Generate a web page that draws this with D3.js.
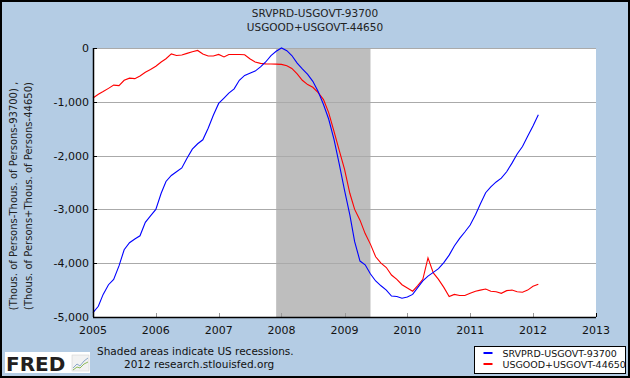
<!DOCTYPE html>
<html>
<head>
<meta charset="utf-8">
<script src="https://cdn.jsdelivr.net/npm/d3@7"></script>
<style>
  body { margin: 0; background: #fff; }
  svg { display: block; font-family: "DejaVu Sans", Verdana, sans-serif; }
</style>
</head>
<body>
<div id="chart_container"></div>
<script>
// monthly values, Jan 2005 .. Feb 2012 (thousands of persons)
var startMonth = new Date(2005, 0, 1);

var srvprd = [
    -4920, -4800, -4580, -4400, -4300, -4050, -3750, -3620, -3550, -3490, -3240, -3120,
    -3000, -2700, -2480, -2370, -2300, -2230, -2050, -1880, -1780, -1706, -1490, -1250,
    -1030, -930, -840, -760, -600, -510, -470, -430, -350, -260, -140, -60,
    0, -50, -140, -280, -390, -490, -620, -810, -1050, -1320, -1700, -2150,
    -2640, -3100, -3600, -3960, -4030, -4200, -4330, -4420, -4500, -4610, -4620, -4650,
    -4630, -4580, -4460, -4330, -4240, -4170, -4100, -3990, -3850, -3680, -3540, -3420,
    -3290, -3100, -2900, -2690, -2580, -2490, -2420, -2300, -2140, -1970, -1830, -1640,
    -1450, -1240
];

var usgood = [
    -930, -860, -810, -750, -690, -700, -600, -560, -570, -520, -450, -400,
    -340, -260, -200, -110, -140, -130, -100, -70, -45, -110, -150, -150,
    -120, -165, -120, -120, -120, -125, -200, -260, -285, -295, -298, -300,
    -305, -330, -380, -480, -600, -680, -730, -830, -960, -1200, -1550, -1900,
    -2250, -2700, -3000, -3200, -3450, -3650, -3880, -4000, -4080, -4220, -4300, -4400,
    -4460, -4520, -4420, -4300, -3900, -4180, -4300, -4450, -4620, -4580, -4600, -4600,
    -4560, -4520, -4500, -4480, -4520, -4530, -4560, -4510, -4500, -4530, -4540, -4500,
    -4430, -4390
];

var yTicks = [0, -1000, -2000, -3000, -4000, -5000];
var xTickYears = [2005, 2006, 2007, 2008, 2009, 2010, 2011, 2012, 2013];
var recession = [new Date(2007, 11, 1), new Date(2009, 5, 1)];

var titleLines = ["SRVPRD-USGOVT-93700", "USGOOD+USGOVT-44650"];
var yLabelLines = ["(Thous. of Persons-Thous. of Persons-93700) ,", "(Thous. of Persons+Thous. of Persons-44650)"];
var seriesNames = ["SRVPRD-USGOVT-93700", "USGOOD+USGOVT-44650"];
var seriesColors = ["#0000ff", "#ff0000"];

function toPoints(values) {
    return values.map(function (v, i) {
        return { date: d3.timeMonth.offset(startMonth, i), value: v };
    });
}

draw_chart();

function draw_chart() {
    var chart_width = 630, chart_height = 378;
    var margin = { top: 48, right: 34, bottom: 61, left: 93 };
    var width = chart_width - margin.left - margin.right;
    var height = chart_height - margin.top - margin.bottom;

    var svg = d3.select("#chart_container")
        .append("svg")
        .attr("width", chart_width)
        .attr("height", chart_height);

    // background + frame
    svg.append("rect")
        .attr("x", 1).attr("y", 1)
        .attr("width", chart_width - 2).attr("height", chart_height - 2)
        .attr("fill", "#b4cce4")
        .attr("stroke", "#000")
        .attr("stroke-width", 2);

    // title
    svg.selectAll(".title")
        .data(titleLines)
        .enter().append("text")
        .attr("class", "title")
        .attr("x", 315)
        .attr("y", function (d, i) { return 17 + i * 14; })
        .attr("text-anchor", "middle")
        .style("font-size", "10.5px")
        .attr("fill", "#222")
        .text(function (d) { return d; });

    var x = d3.scaleTime()
        .domain([new Date(2005, 0, 1), new Date(2013, 0, 1)])
        .range([0, width]);
    var y = d3.scaleLinear()
        .domain([-5000, 0])
        .range([height, 0]);

    var plot = svg.append("g")
        .attr("transform", "translate(" + margin.left + "," + margin.top + ")");

    plot.append("rect")
        .attr("width", width).attr("height", height)
        .attr("fill", "#fff");

    // recession shading
    plot.append("rect")
        .attr("x", x(recession[0]))
        .attr("width", x(recession[1]) - x(recession[0]))
        .attr("height", height)
        .attr("fill", "#bebebe");

    // gridlines
    plot.selectAll(".grid")
        .data(yTicks.slice(0, -1))
        .enter().append("line")
        .attr("class", "grid")
        .attr("x1", 0).attr("x2", width)
        .attr("y1", function (d) { return Math.round(y(d)) + 0.5; })
        .attr("y2", function (d) { return Math.round(y(d)) + 0.5; })
        .attr("stroke", "#aaaaaa")
        .attr("stroke-width", 1);

    // x ticks (inside, upward)
    plot.selectAll(".xtick")
        .data(xTickYears)
        .enter().append("line")
        .attr("class", "xtick")
        .attr("x1", function (d) { return Math.round(x(new Date(d, 0, 1))) + 0.5; })
        .attr("x2", function (d) { return Math.round(x(new Date(d, 0, 1))) + 0.5; })
        .attr("y1", height).attr("y2", height - 4)
        .attr("stroke", function (d, i) { return i === xTickYears.length - 1 ? "#000" : "#999"; });

    // series lines
    var line = d3.line()
        .x(function (d) { return x(d.date); })
        .y(function (d) { return y(d.value); });

    [usgood, srvprd].forEach(function (vals, k) {
        plot.append("path")
            .datum(toPoints(vals))
            .attr("d", line)
            .attr("fill", "none")
            .attr("stroke", k === 0 ? seriesColors[1] : seriesColors[0])
            .attr("stroke-width", 1.1);
    });

    // axes lines
    plot.append("line")
        .attr("x1", 0.5).attr("x2", 0.5)
        .attr("y1", 0).attr("y2", height)
        .attr("stroke", "#000").attr("stroke-width", 1.5);
    plot.append("line")
        .attr("x1", 0).attr("x2", width)
        .attr("y1", height + 0.5).attr("y2", height + 0.5)
        .attr("stroke", "#000").attr("stroke-width", 1.5);
    plot.selectAll(".ytick")
        .data(yTicks)
        .enter().append("line")
        .attr("class", "ytick")
        .attr("x1", 0).attr("x2", 4)
        .attr("y1", function (d) { return Math.round(y(d)) + 0.5; })
        .attr("y2", function (d) { return Math.round(y(d)) + 0.5; })
        .attr("stroke", "#000");

    // y tick labels
    var fmt = d3.format(",");
    plot.selectAll(".ylabel")
        .data(yTicks)
        .enter().append("text")
        .attr("class", "ylabel")
        .attr("x", -4)
        .attr("y", function (d) { return y(d) + 4; })
        .attr("text-anchor", "end")
        .style("font-size", "11px")
        .attr("fill", "#111")
        .text(function (d) { return d === 0 ? "0" : "-" + fmt(-d); });

    // x tick labels
    plot.selectAll(".xlabel")
        .data(xTickYears)
        .enter().append("text")
        .attr("class", "xlabel")
        .attr("x", function (d) { return x(new Date(d, 0, 1)); })
        .attr("y", height + 17)
        .attr("text-anchor", "middle")
        .style("font-size", "11px")
        .attr("fill", "#111")
        .text(function (d) { return d; });

    // y axis label (two rotated lines)
    svg.selectAll(".yaxis_label")
        .data(yLabelLines)
        .enter().append("text")
        .attr("class", "yaxis_label")
        .attr("transform", function (d, i) { return "translate(" + (17 + i * 15) + ",196) rotate(-90)"; })
        .attr("text-anchor", "middle")
        .style("font-size", "10px")
        .attr("fill", "#222")
        .text(function (d) { return d; });

    // footer notes
    svg.append("text")
        .attr("x", 97).attr("y", 355)
        .style("font-size", "10.5px").attr("fill", "#111")
        .text("Shaded areas indicate US recessions.");
    svg.append("text")
        .attr("x", 124).attr("y", 368)
        .style("font-size", "10.5px").attr("fill", "#111")
        .text("2012 research.stlouisfed.org");

    // FRED logo
    var logo = svg.append("g").attr("transform", "translate(5,352)");
    logo.append("rect").attr("width", 85).attr("height", 21).attr("fill", "#fff");
    logo.append("text")
        .attr("x", 1).attr("y", 19)
        .style("font-family", "'DejaVu Sans', sans-serif")
        .style("font-weight", "bold")
        .style("font-size", "20px")
        .attr("fill", "#231f20")
        .text("FRED");
    logo.append("rect").attr("x", 67).attr("y", 3).attr("width", 17).attr("height", 16)
        .attr("fill", "#f2f2f2").attr("stroke", "#ccc").attr("stroke-width", 0.5);
    logo.append("path").attr("d", "M68,16 L72,12 L75,14 L79,9 L83,6")
        .attr("fill", "none").attr("stroke", "#8aa8c8").attr("stroke-width", 1);
    logo.append("path").attr("d", "M68,18 L72,15 L75,16 L79,12 L83,10")
        .attr("fill", "none").attr("stroke", "#8dbb5a").attr("stroke-width", 1);

    // legend
    var legend = svg.append("g").attr("transform", "translate(474.5,346.5)");
    legend.append("rect")
        .attr("width", 151).attr("height", 27)
        .attr("fill", "#fff").attr("stroke", "#000").attr("stroke-width", 1);
    legend.selectAll(".leg_line")
        .data(seriesNames)
        .enter().append("line")
        .attr("x1", 9).attr("x2", 18)
        .attr("y1", function (d, i) { return 6.5 + i * 11; })
        .attr("y2", function (d, i) { return 6.5 + i * 11; })
        .attr("stroke", function (d, i) { return seriesColors[i]; })
        .attr("stroke-width", 2);
    legend.selectAll(".leg_text")
        .data(seriesNames)
        .enter().append("text")
        .attr("x", 28)
        .attr("y", function (d, i) { return 10 + i * 11; })
        .style("font-size", "9.5px")
        .attr("fill", "#111")
        .text(function (d) { return d; });
}
</script>
</body>
</html>
